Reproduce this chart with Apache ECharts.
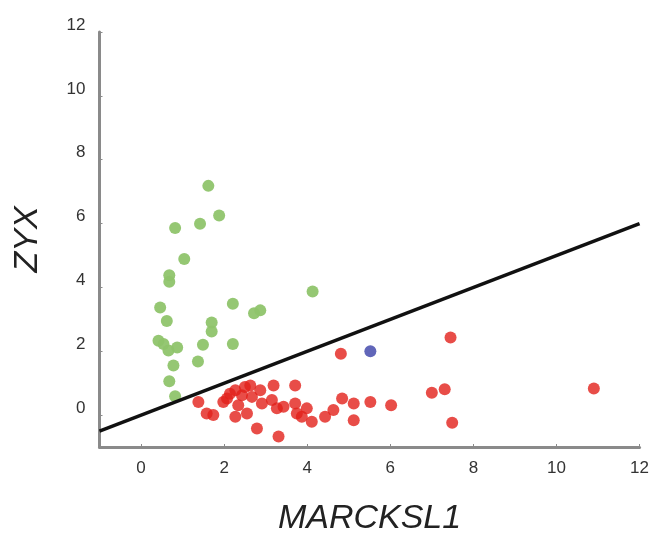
<!DOCTYPE html>
<html>
<head>
<meta charset="utf-8">
<script src="https://cdn.jsdelivr.net/npm/echarts@6/dist/echarts.min.js"></script>
<style>html,body{margin:0;padding:0;background:#fff;overflow:hidden}#c{width:652px;height:541px}</style>
</head>
<body>
<div id="c"></div>
<script>
const xTicks = [0, 2, 4, 6, 8, 10, 12];
const yTicks = [0, 2, 4, 6, 8, 10, 12];
const greenPoints = [
  [1.62, 7.18], [1.88, 6.25], [1.42, 5.99], [0.82, 5.86], [1.04, 4.89],
  [0.68, 4.38], [0.68, 4.18], [4.13, 3.87], [0.46, 3.37], [2.21, 3.49],
  [2.72, 3.19], [2.87, 3.28], [0.62, 2.95], [1.70, 2.90], [1.70, 2.62],
  [0.42, 2.33], [0.54, 2.23], [0.87, 2.12], [1.49, 2.20], [2.21, 2.23],
  [0.66, 2.02], [0.78, 1.55], [1.37, 1.68], [0.68, 1.06], [0.82, 0.59]
];
const redPoints = [
  [1.38, 0.41], [1.58, 0.05], [1.74, 0.00], [1.98, 0.41], [2.07, 0.52],
  [2.14, 0.67], [2.27, 0.78], [2.43, 0.62], [2.50, 0.88], [2.63, 0.93],
  [2.67, 0.57], [2.87, 0.78], [2.91, 0.36], [2.27, -0.05], [2.55, 0.05],
  [2.34, 0.31], [2.79, -0.42], [3.19, 0.93], [3.71, 0.93], [3.15, 0.47],
  [3.27, 0.21], [3.43, 0.26], [3.31, -0.67], [3.71, 0.36], [3.75, 0.05],
  [3.99, 0.21], [4.11, -0.21], [3.87, -0.05], [4.43, -0.05], [4.63, 0.16],
  [4.84, 0.52], [5.12, 0.36], [5.12, -0.16], [5.52, 0.41], [6.02, 0.31],
  [7.00, 0.70], [7.31, 0.81], [7.49, -0.24], [7.45, 2.43], [10.90, 0.83],
  [4.81, 1.92]
];
const bluePoints = [[5.52, 2.00]];
const dividerLine = [[-1, -0.5], [12, 6]];

const chart = echarts.init(document.getElementById('c'), null, {width: 652, height: 541});
const axisCommon = {
  min: -1, max: 12,
  axisLine: {show: true, onZero: false, lineStyle: {color: '#8a8a8a', width: 3}},
  splitLine: {show: false},
  nameTextStyle: {fontFamily: 'Liberation Sans', fontStyle: 'italic', fontSize: 34, color: '#222'},
  axisLabel: {fontFamily: 'Liberation Sans', fontSize: 17, color: '#333'}
};
chart.setOption({
  animation: false,
  grid: {left: 99.5, width: 540.5, top: 32, height: 420, containLabel: false},
  xAxis: Object.assign({}, axisCommon, {
    type: 'value', name: 'MARCKSL1', nameLocation: 'middle', nameGap: 55,
    axisLabel: Object.assign({}, axisCommon.axisLabel, {customValues: xTicks, margin: 13}),
    axisTick: {show: true, inside: true, length: 3, lineStyle: {color: '#8a8a8a'}, customValues: xTicks}
  }),
  yAxis: Object.assign({}, axisCommon, {
    type: 'value', name: 'ZYX', nameLocation: 'middle', nameGap: 55,
    axisLabel: Object.assign({}, axisCommon.axisLabel, {customValues: yTicks, margin: 14, verticalAlign: 'bottom', lineHeight: 14}),
    axisTick: {show: true, inside: true, length: 3, lineStyle: {color: '#8a8a8a'}, customValues: yTicks}
  }),
  series: [
    {type: 'scatter', data: greenPoints, symbolSize: 12, itemStyle: {color: '#8fc46c', opacity: 0.95}},
    {type: 'line', data: dividerLine, symbol: 'none', lineStyle: {color: '#111', width: 3.5}, z: 3},
    {type: 'scatter', data: redPoints, symbolSize: 12, itemStyle: {color: '#e2211a'}, z: 4},
    {type: 'scatter', data: bluePoints, symbolSize: 12, itemStyle: {color: '#3a40a8'}, z: 4}
  ]
});
</script>
</body>
</html>
